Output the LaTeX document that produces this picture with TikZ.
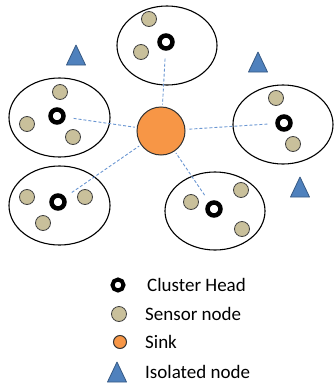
\documentclass[tikz,border=0pt]{standalone}
\usepackage{fontspec}
\setmainfont{Carlito}
\definecolor{sensorfill}{HTML}{C9C09B}
\definecolor{sinkfill}{HTML}{F79646}
\definecolor{isoblue}{HTML}{4F81BD}
\definecolor{linkblue}{HTML}{6A96D2}
\begin{document}
\begin{tikzpicture}[x=1pt,y=-1pt,font=\fontsize{19}{22}\selectfont,
  head/.style={circle,draw=black,line width=4.5pt,fill=white,inner sep=0pt,minimum size=13pt},
  sensor/.style={circle,draw=black!75,fill=sensorfill,line width=0.8pt,inner sep=0pt,minimum size=15pt},
  sinknode/.style={circle,draw=black!80,fill=sinkfill,line width=1pt,inner sep=0pt,minimum size=48pt},
  isolated/.style={draw=isoblue!70!black,fill=isoblue,line width=0.8pt,line join=round},
  link/.style={linkblue,line width=0.9pt,dash pattern=on 3pt off 2pt,shorten <=8pt,shorten >=2pt},
  legend/.style={anchor=west,inner sep=0pt}]
\useasboundingbox (0,0) rectangle (333,383);

% sink
\node[sinknode] (sink) at (161,131) {};

% clusters
\draw [line width=1.1pt] (167,45.5) ellipse (50 and 39.5);
\node[sensor] (s11) at (149,19) {};
\node[sensor] (s12) at (141,52) {};
\node[head] (ch1) at (166,42) {};

\draw [line width=1.1pt] (59.5,117.5) ellipse (50.5 and 39.5);
\node[sensor] (s21) at (60,92) {};
\node[sensor] (s22) at (27,124) {};
\node[sensor] (s23) at (73,137) {};
\node[head] (ch2) at (57,116) {};

\draw [line width=1.1pt] (283,124.5) ellipse (50 and 39.5);
\node[sensor] (s31) at (276,98) {};
\node[sensor] (s32) at (293,144) {};
\node[head] (ch3) at (284,123) {};

\draw [line width=1.1pt] (59.5,205.5) ellipse (50.5 and 39.5);
\node[sensor] (s41) at (27,197) {};
\node[sensor] (s42) at (85,197) {};
\node[sensor] (s43) at (43,223) {};
\node[head] (ch4) at (58,202) {};

\draw [line width=1.1pt] (215,211) ellipse (50 and 39);
\node[sensor] (s51) at (241,190) {};
\node[sensor] (s52) at (191,202) {};
\node[sensor] (s53) at (242,229) {};
\node[head] (ch5) at (214,209) {};

% links to the sink
\foreach \c in {1,...,5}
  \draw [link] (ch\c) -- (sink);

% isolated nodes
\coordinate (iso1) at (76,55);
\coordinate (iso2) at (258,62);
\coordinate (iso3) at (300,187);
\foreach \i in {1,2,3}
  \filldraw [isolated] (iso\i) ++(0,-10) -- ++(9.5,20) -- ++(-19,0) -- cycle;

% legend
\node[head,minimum size=11pt,line width=4pt] (lhead) at (118,285) {};
\node[legend] (thead) at (147,285) {Cluster Head};
\node[sensor] (lsensor) at (119,314) {};
\node[legend] (tsensor) at (145,314) {Sensor node};
\node[sinknode,minimum size=13pt] (lsink) at (120,342) {};
\node[legend] (tsink) at (145,342) {Sink};
\coordinate (liso) at (117,372);
\filldraw [isolated] (liso) ++(0,-10) -- ++(9.5,20) -- ++(-19,0) -- cycle;
\node[legend] (tiso) at (145,372) {Isolated node};

\end{tikzpicture}
\end{document}
